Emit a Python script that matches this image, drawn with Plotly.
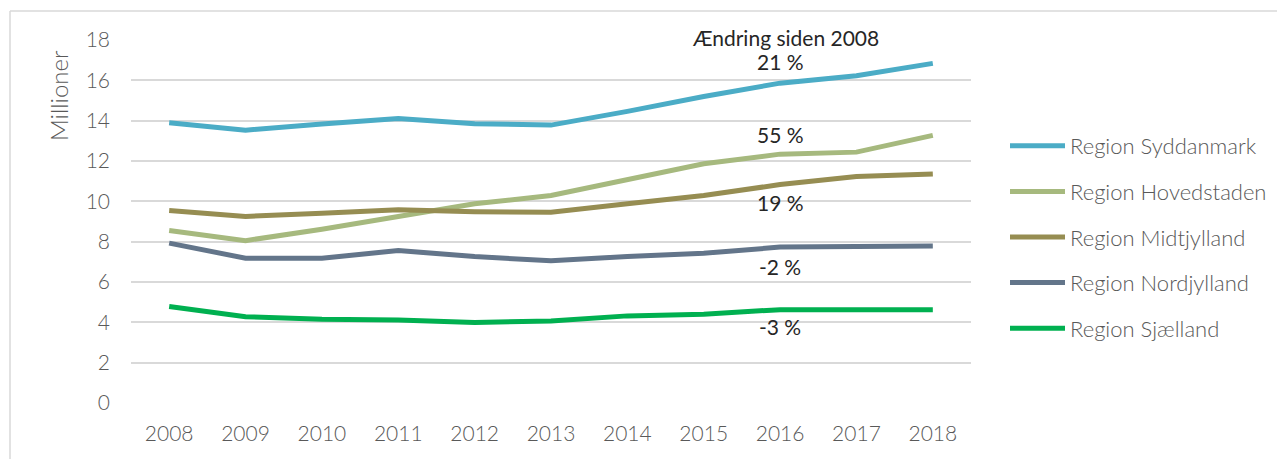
import plotly.graph_objects as go

years = [2008, 2009, 2010, 2011, 2012, 2013, 2014, 2015, 2016, 2017, 2018]
syddanmark = [13.90, 13.53, 13.83, 14.11, 13.85, 13.78, 14.46, 15.20, 15.86, 16.23, 16.84]
hovedstaden = [8.55, 8.05, 8.62, 9.28, 9.88, 10.29, 11.05, 11.86, 12.34, 12.44, 13.27]
midtjylland = [9.54, 9.25, 9.41, 9.58, 9.48, 9.46, 9.88, 10.29, 10.83, 11.23, 11.36]
nordjylland = [7.93, 7.18, 7.18, 7.56, 7.26, 7.05, 7.26, 7.43, 7.73, 7.74, 7.79]
sjaelland = [4.78, 4.28, 4.15, 4.12, 3.99, 4.07, 4.32, 4.40, 4.63, 4.63, 4.63]

names = ["Region Syddanmark", "Region Hovedstaden", "Region Midtjylland",
         "Region Nordjylland", "Region Sjælland"]
series = [syddanmark, hovedstaden, midtjylland, nordjylland, sjaelland]
colors = ["#4BACC6", "#A6B97E", "#968D52", "#63758A", "#00B050"]

change_labels = ["21 %", "55 %", "19 %", "-2 %", "-3 %"]
change_label_y = [16.94, 13.30, 9.94, 6.76, 3.79]
header_text = "Ændring siden 2008"

# page body has an 8px margin: screen px = figure px + 8
OFF = 8
W, H = 1285, 459
PLOT_L, PLOT_R, PLOT_T, PLOT_B = 131, 971, 40, 403   # screen px
ML = PLOT_L - OFF
MT = PLOT_T - OFF
PW = PLOT_R - PLOT_L
PH = PLOT_B - PLOT_T
MR = W - ML - PW
MB = H - MT - PH


def px_x(sx):
    return (sx - PLOT_L) / PW


def px_y(sy):
    return (PLOT_B - sy) / PH


FONT = "Lato"
GRAY = "#595959"
DARK = "#262626"

fig = go.Figure()
for i, (n, s, c) in enumerate(zip(names, series, colors)):
    fig.add_trace(go.Scatter(
        x=years, y=s, name=n, mode="lines",
        line=dict(color=c, width=5),
        legendgroup=str(i),
    ))

annotations = [
    dict(x=px_x(785.5), y=px_y(37), xref="paper", yref="paper",
         xanchor="center", yanchor="middle", text=header_text,
         showarrow=False, font=dict(family=FONT, size=21, color=DARK)),
]
for lab, ly in zip(change_labels, change_label_y):
    annotations.append(dict(x=2016.0, y=ly, xref="x", yref="y", text=lab,
                            xanchor="center", yanchor="middle",
                            showarrow=False,
                            font=dict(family=FONT, size=21, color=DARK)))
annotations.append(dict(x=px_x(58), y=px_y(96), xref="paper", yref="paper",
                        xanchor="center", yanchor="middle",
                        text="Millioner", textangle=-90, showarrow=False,
                        font=dict(family=FONT, size=24, color=GRAY, weight=300)))

shapes = [
    dict(type="line", xref="paper", yref="paper",
         x0=px_x(10), x1=px_x(1300), y0=px_y(11), y1=px_y(11),
         line=dict(color="#D9D9D9", width=1.5)),
    dict(type="line", xref="paper", yref="paper",
         x0=px_x(10), x1=px_x(10), y0=px_y(11), y1=px_y(470),
         line=dict(color="#D9D9D9", width=1.5)),
]

fig.update_layout(
    width=W, height=H,
    margin=dict(l=ML, r=MR, t=MT, b=MB, autoexpand=False),
    paper_bgcolor="white", plot_bgcolor="white",
    font=dict(family=FONT, size=20, color=GRAY),
    xaxis=dict(range=[2007.5, 2018.5], tickmode="array", tickvals=years,
               ticktext=[str(y) for y in years], showgrid=False,
               zeroline=False, showline=False, ticks="",
               ticklabelstandoff=16,
               tickfont=dict(family=FONT, size=21, color=GRAY, weight=300)),
    yaxis=dict(range=[0, 18], dtick=2, tick0=0, showgrid=True,
               gridcolor="#D9D9D9", gridwidth=1.5, zeroline=False,
               showline=False, ticks="", ticklabelstandoff=20,
               tickfont=dict(family=FONT, size=21, color=GRAY, weight=300)),
    legend=dict(x=px_x(1005), y=px_y(125), xanchor="left", yanchor="top",
                traceorder="grouped", tracegroupgap=14, itemwidth=55,
                font=dict(family=FONT, size=22, color=GRAY, weight=300),
                bgcolor="rgba(0,0,0,0)"),
    annotations=annotations,
    shapes=shapes,
    showlegend=True,
)

fig.write_html("out.html")
